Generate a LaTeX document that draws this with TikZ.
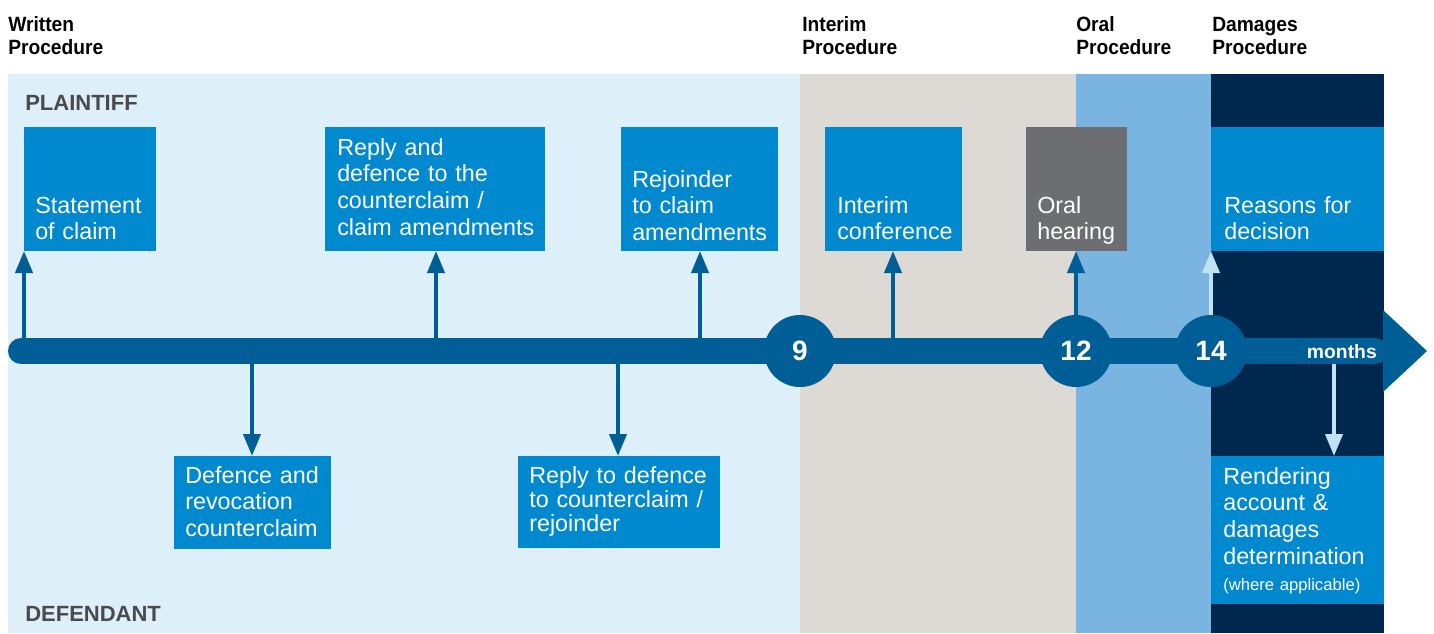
\documentclass[tikz,border=0pt]{standalone}
\usepackage{fontspec}
\setmainfont{Liberation Sans}
\newfontfamily\condfont{Liberation Sans}[FakeStretch=0.93]
\usetikzlibrary{arrows.meta,fit}
\definecolor{bandA}{HTML}{DDEFF8}
\definecolor{bandB}{HTML}{DDDAD6}
\definecolor{bandC}{HTML}{7AB5E1}
\definecolor{bandD}{HTML}{00274D}
\definecolor{boxblue}{HTML}{0089CF}
\definecolor{boxgrey}{HTML}{6D6E71}
\definecolor{barblue}{HTML}{005E96}
\definecolor{lightarr}{HTML}{BFE3F4}
\definecolor{partytext}{HTML}{4A4A4C}
\begin{document}
\begin{tikzpicture}[x=0.75pt,y=-0.75pt,
  box/.style={fill=boxblue, inner sep=0pt, outer sep=0pt, draw=none},
  txt/.style={text=white, font=\fontsize{17.5}{20}\selectfont, anchor=base west, inner sep=0pt, text width=200pt, align=left},
  head/.style={text=black, font=\condfont\bfseries\fontsize{15.5}{17.25}\selectfont, anchor=base west, inner sep=0pt, text width=120pt, align=left},
  party/.style={text=partytext, font=\bfseries\fontsize{16.5}{18}\selectfont, anchor=base west, inner sep=0pt},
  tick/.style={circle, fill=barblue, minimum size=54pt, inner sep=0pt, text=white, font=\bfseries\fontsize{21}{21}\selectfont},
  arr/.style={draw=barblue, line width=3pt, -{Triangle[width=12.75pt,length=16.5pt]}},
  larr/.style={arr, draw=lightarr},
]
\useasboundingbox (0,0) rectangle (1434,633);
% bands
\fill[bandA] (8,74) rectangle (800,633);
\fill[bandB] (800,74) rectangle (1076,633);
\fill[bandC] (1076,74) rectangle (1211,633);
\fill[bandD] (1211,74) rectangle (1384,633);
% headers
\node[head] (hw) at (8,31) {Written\\Procedure};
\node[head] (hi) at (802,31) {Interim\\Procedure};
\node[head] (ho) at (1076,31) {Oral\\Procedure};
\node[head] (hd) at (1212,31) {Damages\\Procedure};
\node[party] (pl) at (25,110) {PLAINTIFF};
\node[party] (df) at (25,621) {DEFENDANT};
% boxes
\node[box, fit={(24,127) (156,251)}] (s1) {};
\node[box, fit={(325,127) (545,251)}] (s2) {};
\node[box, fit={(621,127) (778,251)}] (s3) {};
\node[box, fit={(825,127) (962,251)}] (s4) {};
\node[box, fill=boxgrey, fit={(1026,127) (1127,251)}] (s5) {};
\node[box, fit={(1211,127) (1384,251)}] (s6) {};
\node[box, fit={(174,456) (331,549)}] (d1) {};
\node[box, fit={(518,456) (720,548)}] (d2) {};
\node[box, fit={(1211,456) (1384,604)}] (d3) {};
% texts
\node[txt] (s1t) at (35,213) {Statement\\of claim};
\node[txt] (s2t) at (337,155) {Reply and\\defence to the\\counterclaim /\\claim amendments};
\node[txt] (s3t) at (632,187) {Rejoinder\\to claim\\amendments};
\node[txt] (s4t) at (837,213) {Interim\\conference};
\node[txt] (s5t) at (1037,213) {Oral\\hearing};
\node[txt] (s6t) at (1224,213) {Reasons for\\decision};
\node[txt] (d1t) at (185,483) {Defence and\\revocation\\counterclaim};
\node[txt, font=\fontsize{17.5}{18}\selectfont] (d2t) at (529,483) {Reply to defence\\to counterclaim /\\rejoinder};
\node[txt] (d3t) at (1223,484) {Rendering\\account \&\\damages\\determination};
\node[txt, font=\fontsize{12.5}{14}\selectfont] (d3n) at (1223,590) {(where applicable)};
% points on the time bar
\coordinate (t1) at (24,351);
\coordinate (t2) at (436,351);
\coordinate (t3) at (700,351);
\coordinate (t4) at (893,351);
\coordinate (u1) at (252,351);
\coordinate (u2) at (618,351);
\coordinate (u3) at (1334,351);
\draw[arr] (t1) -- (t1 |- s1.south);
\draw[arr] (t2) -- (t2 |- s2.south);
\draw[arr] (t3) -- (t3 |- s3.south);
\draw[arr] (t4) -- (t4 |- s4.south);
\draw[arr] (u1) -- (u1 |- d1.north);
\draw[arr] (u2) -- (u2 |- d2.north);
\draw[larr] (u3) -- (u3 |- d3.north);
% time bar
\draw[barblue, line width=19.5pt, line cap=round] (21,351) -- (1375,351);
\fill[barblue] (1383,310) -- (1427,351) -- (1383,392) -- cycle;
\node[tick] (c9) at (800,351) {9};
\node[tick] (c12) at (1076,351) {12};
\node[tick] (c14) at (1211,351) {14};
\draw[arr] (c12) -- (c12 |- s5.south);
\draw[larr] (c14) -- (c14 |- s6.south);
\node[anchor=base east, text=white, font=\bfseries\fontsize{14.5}{14.5}\selectfont, inner sep=0pt] (mo) at (1377,358) {months};
\end{tikzpicture}
\end{document}
